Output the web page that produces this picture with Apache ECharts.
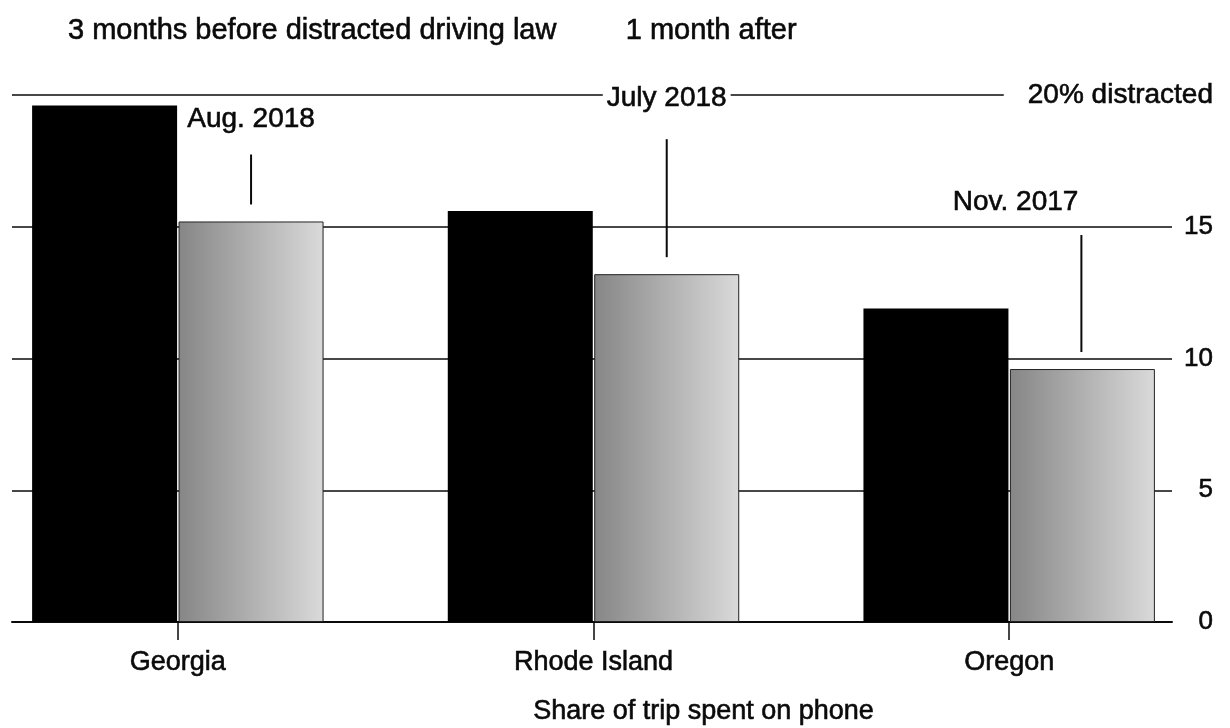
<!DOCTYPE html>
<html>
<head>
<meta charset="utf-8">
<script src="https://cdn.jsdelivr.net/npm/echarts@6/dist/echarts.min.js"></script>
<style>
    html, body { margin: 0; background: #fff; }
    #chart { width: 1230px; height: 728px; }
</style>
</head>
<body>
<div id="chart"></div>
<script>
// data
const states = ['Georgia', 'Rhode Island', 'Oregon'];
const before = [19.6, 15.6, 11.9];
const after = [15.2, 13.2, 9.6];
const lawDates = ['Aug. 2018', 'July 2018', 'Nov. 2017'];
const seriesNames = ['3 months before distracted driving law', '1 month after'];

// annotation look (pixels): leader length and gap under the date
const leaderLen = [50, 118, 117];
const leaderGap = [20, 26, 18];

const font = "'Liberation Sans', Arial, sans-serif";
const ink = '#0a0a0a';
// a thin outline makes the regular face read closer to the medium weight of the print
const heavy = { textBorderColor: ink, textBorderWidth: 0.6 };

const chart = echarts.init(document.getElementById('chart'));

chart.setOption({
    animation: false,
    textStyle: { fontFamily: font, color: ink },
    legend: {
        data: seriesNames,
        left: 58,
        top: 11,
        icon: 'none',
        itemWidth: 0,
        itemGap: 64,
        selectedMode: false,
        textStyle: Object.assign({ fontSize: 29, color: ink, fontFamily: font }, heavy)
    },
    grid: [
        // bars
        { left: -30, right: 13, top: 95, bottom: 106, outerBoundsMode: 'none' },
        // grid lines + value axis
        { left: 12, right: 58, top: 95, bottom: 106, outerBoundsMode: 'none' }
    ],
    xAxis: [
        {
            type: 'category',
            gridIndex: 0,
            data: states,
            axisLine: { show: false },
            axisTick: { show: true, alignWithLabel: true, length: 18, lineStyle: { color: ink, width: 1.5 } },
            axisLabel: Object.assign({ fontSize: 27, color: ink, margin: 27, fontFamily: font }, heavy),
            name: 'Share of trip spent on phone',
            nameLocation: 'middle',
            nameGap: 76,
            nameTextStyle: Object.assign({ fontSize: 27, color: ink, fontFamily: font, padding: [0, 0, 0, 220] }, heavy)
        },
        {
            type: 'value',
            gridIndex: 1,
            min: 0,
            max: 1,
            axisLine: { show: true, onZero: false, lineStyle: { color: ink, width: 2 } },
            axisTick: { show: false },
            axisLabel: { show: false },
            splitLine: { show: false }
        }
    ],
    yAxis: [
        { type: 'value', gridIndex: 0, min: 0, max: 20, show: false },
        {
            type: 'value',
            gridIndex: 1,
            position: 'right',
            min: 0,
            max: 20,
            interval: 5,
            axisLine: { show: false },
            axisTick: { show: false },
            axisLabel: Object.assign({
                align: 'right',
                margin: 41,
                fontSize: 26,
                color: ink,
                fontFamily: font,
                formatter: v => v === 20 ? '{t|20% distracted}' : String(v),
                rich: {
                    t: Object.assign({ fontSize: 28, color: ink, fontFamily: font, backgroundColor: '#fff', padding: [4, 0, 4, 24] }, heavy)
                }
            }, heavy),
            splitLine: { show: true, lineStyle: { color: ink, width: 1.5 } }
        }
    ],
    series: [
        {
            name: seriesNames[0],
            type: 'bar',
            xAxisIndex: 0,
            yAxisIndex: 0,
            data: before,
            barWidth: 145,
            barGap: '1%',
            itemStyle: { color: '#000' }
        },
        {
            name: seriesNames[1],
            type: 'bar',
            xAxisIndex: 0,
            yAxisIndex: 0,
            barWidth: 145,
            barGap: '1%',
            itemStyle: {
                color: new echarts.graphic.LinearGradient(0, 0, 1, 0, [
                    { offset: 0, color: '#868686' },
                    { offset: 1, color: '#dadada' }
                ]),
                borderColor: '#222',
                borderWidth: 1
            },
            data: after.map((v, i) => ({
                value: v,
                label: {
                    show: true,
                    position: 'top',
                    distance: 17,
                    align: i === 2 ? 'right' : 'center',
                    formatter: '{d|' + lawDates[i] + '}\n{g| }\n{l| }',
                    rich: {
                        d: Object.assign({ fontSize: 28, lineHeight: 30, color: ink, fontFamily: font, backgroundColor: '#fff', padding: [0, 4] }, heavy),
                        g: { height: leaderGap[i], lineHeight: leaderGap[i], fontSize: 1 },
                        l: { width: 2, height: leaderLen[i], lineHeight: leaderLen[i], fontSize: 1, backgroundColor: ink }
                    }
                }
            }))
        }
    ]
});
</script>
</body>
</html>
